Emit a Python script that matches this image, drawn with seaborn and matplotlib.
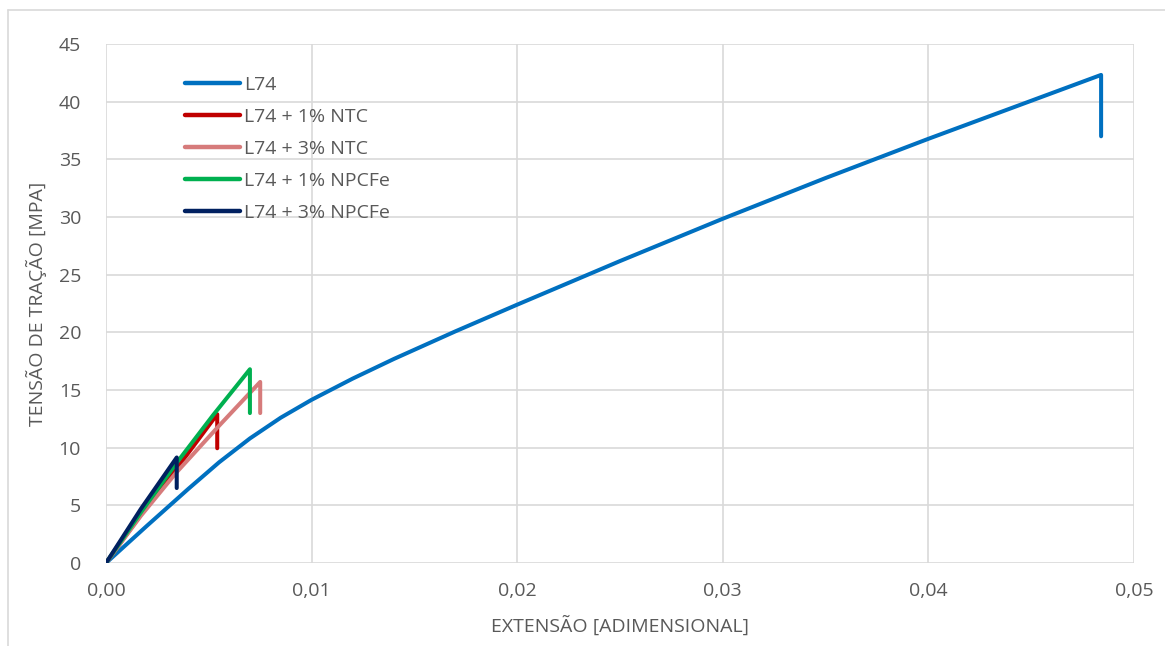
import matplotlib
matplotlib.use("Agg")
import matplotlib.pyplot as plt
from matplotlib.lines import Line2D
import pandas as pd
import seaborn as sns

# Tensile test curves: strain (dimensionless) vs tensile stress (MPa)
l74_x = [0.0, 0.002, 0.004, 0.0055, 0.007, 0.0085, 0.010, 0.012, 0.014, 0.017,
         0.020, 0.025, 0.030, 0.035, 0.040, 0.0484, 0.0484]
l74_y = [0.0, 3.24, 6.42, 8.73, 10.80, 12.60, 14.15, 15.99, 17.69, 20.09,
         22.40, 26.18, 29.85, 33.38, 36.78, 42.32, 37.0]

ntc1_x = [0.0, 0.0017, 0.0034, 0.00541, 0.00541]
ntc1_y = [0.0, 4.2, 8.1, 12.9, 9.95]

ntc3_x = [0.0, 0.0017, 0.0034, 0.0055, 0.0075, 0.0075]
ntc3_y = [0.0, 4.1, 7.8, 11.9, 15.7, 13.0]

npcfe1_x = [0.0, 0.0017, 0.0034, 0.0052, 0.0070, 0.0070]
npcfe1_y = [0.0, 4.4, 8.6, 12.8, 16.8, 13.0]

npcfe3_x = [0.0, 0.0017, 0.00344, 0.00344]
npcfe3_y = [0.0, 4.7, 9.15, 6.5]

series_names = ["L74", "L74 + 1% NTC", "L74 + 3% NTC", "L74 + 1% NPCFe", "L74 + 3% NPCFe"]
series_colors = ["#0070C0", "#C00000", "#D67B7B", "#00B050", "#002060"]

x_ticks = [0.00, 0.01, 0.02, 0.03, 0.04, 0.05]
y_ticks = [0, 5, 10, 15, 20, 25, 30, 35, 40, 45]

frames = []
for name, xs, ys in zip(series_names,
                        [l74_x, ntc1_x, ntc3_x, npcfe1_x, npcfe3_x],
                        [l74_y, ntc1_y, ntc3_y, npcfe1_y, npcfe3_y]):
    frames.append(pd.DataFrame({"ext": xs, "stress": ys, "serie": name}))
df = pd.concat(frames, ignore_index=True)

sns.set_theme(style="white")
plt.rcParams["font.family"] = ["Open Sans", "DejaVu Sans"]
text_color = "#595959"
grid_color = "#D9D9D9"
fs = 14

fig = plt.figure(figsize=(11.65, 6.46), dpi=100)
ax = fig.add_axes([106 / 1165, 1 - 563 / 646, (1134 - 106) / 1165, (563 - 44) / 646])

for name, color in zip(series_names, series_colors):
    sub = df[df["serie"] == name]
    sns.lineplot(data=sub, x="ext", y="stress", ax=ax, color=color, label=name,
                 estimator=None, sort=False, linewidth=2.9,
                 solid_capstyle="round", solid_joinstyle="round")

ax.set_xlim(0, 0.05)
ax.set_ylim(0, 45)
ax.set_xticks(x_ticks)
ax.set_yticks(y_ticks)
ax.set_xticklabels([f"{v:.2f}".replace(".", ",") for v in x_ticks])
ax.set_yticklabels([str(v) for v in y_ticks])
ax.tick_params(axis="x", length=0, pad=14, labelsize=fs, labelcolor=text_color)
ax.tick_params(axis="y", length=0, pad=18, labelsize=fs, labelcolor=text_color)
ax.grid(True, color=grid_color, linewidth=1.2)
ax.set_axisbelow(True)
for s in ax.spines.values():
    s.set_visible(False)

ax.set_xlabel("EXTENSÃO [ADIMENSIONAL]", fontsize=fs, color=text_color, labelpad=11)
ax.set_ylabel("TENSÃO DE TRAÇÃO [MPA]", fontsize=fs, color=text_color, labelpad=8)

leg = ax.legend(loc="upper left", bbox_to_anchor=(185 / 1165, 1 - 76 / 646),
                bbox_transform=fig.transFigure, frameon=False, fontsize=fs,
                handlelength=2.85, handletextpad=0.2, labelspacing=0.72,
                borderaxespad=0, borderpad=0)
for t in leg.get_texts():
    t.set_color(text_color)
for h in leg.get_lines():
    h.set_linewidth(3.2)
    h.set_solid_capstyle("round")

# outer chart frame (top and left edges)
fig.add_artist(Line2D([8 / 1165, 1.01], [1 - 10 / 646, 1 - 10 / 646],
                      transform=fig.transFigure, color=grid_color, linewidth=1.2))
fig.add_artist(Line2D([8 / 1165, 8 / 1165], [1 - 10 / 646, -0.01],
                      transform=fig.transFigure, color=grid_color, linewidth=1.2))

fig.savefig("out.png", dpi=100)
